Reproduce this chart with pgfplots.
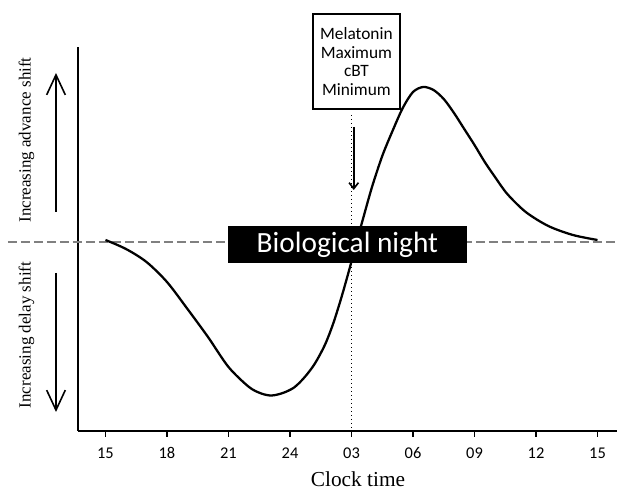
\documentclass[border=0pt]{standalone}
\usepackage{fontspec}
\setmainfont{Liberation Serif}
\newfontfamily\calibri{Carlito}
\usepackage{pgfplots}
\usepackage{pgfplotstable}
\pgfplotsset{compat=1.18}
\usetikzlibrary{arrows.meta}
\definecolor{dashgray}{RGB}{128,128,128}
\newcommand\tl[1]{\mbox{\calibri\fontsize{12.3}{14.4}\selectfont #1}}

\pgfplotstableread{
x y
15.00 0.02
16.00 -0.07
17.00 -0.20
18.00 -0.40
19.00 -0.67
20.00 -0.95
21.00 -1.25
22.00 -1.45
22.60 -1.515
23.10 -1.535
23.65 -1.51
24.20 -1.455
24.70 -1.355
25.20 -1.22
25.70 -1.03
26.10 -0.82
26.50 -0.56
26.90 -0.27
27.25 0.00
27.60 0.26
28.00 0.55
28.50 0.86
29.00 1.11
29.50 1.34
30.00 1.50
30.50 1.55
31.00 1.52
31.50 1.43
32.00 1.29
32.50 1.13
33.00 0.97
33.50 0.80
34.00 0.65
34.60 0.48
35.50 0.30
36.60 0.16
37.80 0.07
39.00 0.02
}\curve

\begin{document}
\begin{tikzpicture}
\path[use as bounding box] (0,0) rectangle (462.75pt,368.25pt);
\begin{axis}[
  at={(58.5pt,45pt)}, anchor=south west,
  width=404.25pt, height=288pt, scale only axis,
  xmin=13.659, xmax=39.951, ymin=-1.89, ymax=1.95,
  axis x line=bottom, axis y line=left,
  axis line style={-, line width=1.2pt},
  xtick={15,18,21,24,27,30,33,36,39},
  xticklabels={\tl{15},\tl{18},\tl{21},\tl{24},\tl{03},\tl{06},\tl{09},\tl{12},\tl{15}},
  ytick=\empty,
  xtick align=outside, major tick length=4.5pt,
  every tick/.style={black, line width=1.2pt},
  xticklabel style={anchor=base, yshift=-16.5pt},
  xlabel={Clock time},
  xlabel style={font=\fontsize{16}{19}\selectfont, at={(axis description cs:0.5195,0)}, anchor=base, yshift=-42pt},
  clip=false,
]
\draw[dashgray, line width=1.1pt, dash pattern=on 6.75pt off 3pt] (axis cs:10.24,0) -- (axis cs:39.951,0);
\addplot[black, line width=1.7pt, smooth, no markers] table[x=x, y=y] {\curve};
\draw[line width=0.8pt, dash pattern=on 0.8pt off 2.2pt] (axis cs:27,1.27) -- (axis cs:27,-1.89);
\draw[line width=1.2pt, -{Straight Barb[length=4.5pt,width=7pt]}] (axis cs:27.11,1.15) -- (axis cs:27.11,0.52);
\node[fill=black, text=white, minimum width=179pt, minimum height=27.75pt, inner sep=0pt, font=\calibri\fontsize{22}{26}\selectfont] at (axis cs:26.80,-0.025) {Biological night};
\node[draw, line width=1.2pt, fill=white, minimum width=65.25pt, minimum height=71.25pt, align=center, inner sep=0pt, font=\calibri\fontsize{13}{14}\selectfont] at (axis cs:27.24,1.805) {Melatonin\\Maximum\\cBT\\Minimum};
\node[rotate=90, font=\fontsize{12.75}{15}\selectfont] at (axis cs:11.15,1.02) {Increasing advance shift};
\node[rotate=90, font=\fontsize{12.75}{15}\selectfont] at (axis cs:11.15,-0.93) {Increasing delay shift};
\draw[line width=1.2pt, -{Straight Barb[length=15pt,width=14pt]}] (axis cs:12.585,0.30) -- (axis cs:12.585,1.69);
\draw[line width=1.2pt, -{Straight Barb[length=15pt,width=14pt]}] (axis cs:12.585,-0.31) -- (axis cs:12.585,-1.70);
\end{axis}
\end{tikzpicture}
\end{document}
